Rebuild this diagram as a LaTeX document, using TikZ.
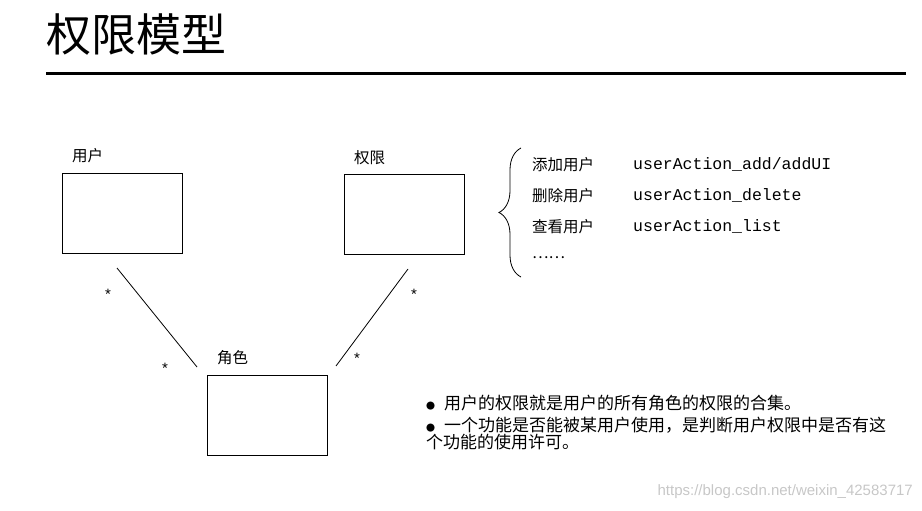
\documentclass[tikz,border=0pt]{standalone}
\usepackage{fontspec}
\setmainfont{Liberation Sans}
\setmonofont{Liberation Mono}
\newfontfamily\cjk{Noto Sans CJK SC}
\usetikzlibrary{decorations.pathreplacing}
\begin{document}
\begin{tikzpicture}[x=1pt,y=-1pt,
  box/.style={draw,line width=0.8pt,minimum width=120pt,minimum height=80pt,inner sep=0},
  lab/.style={font=\cjk\fontsize{15.5}{17}\selectfont,anchor=west,inner sep=0},
  mono/.style={font=\ttfamily\fontsize{16.5}{18}\selectfont,anchor=west,inner sep=0},
  bul/.style={font=\cjk\fontsize{17}{16}\selectfont,anchor=west,inner sep=0},
  star/.style={font=\fontsize{15}{15}\selectfont,inner sep=0}]
\useasboundingbox (0,0) rectangle (922,511);
\node[anchor=west,inner sep=0,font=\cjk\fontsize{45}{50}\selectfont] (title) at (46,35) {权限模型};
\draw[line width=3pt] (46,74) -- (906,74);
\node[box] (user) at (122,213) {};
\node[box] (perm) at (404,214.5) {};
\node[box] (role) at (267,415.5) {};
\node[lab] (lu) at (72,156) {用户};
\node[lab] (lp) at (354,158) {权限};
\node[lab] (lr) at (217,358) {角色};
\coordinate (a1) at (117,268); \coordinate (a2) at (197,367);
\coordinate (b1) at (408,269); \coordinate (b2) at (336,366);
\draw[line width=0.8pt] (a1) -- (a2);
\draw[line width=0.8pt] (b1) -- (b2);
\node[star] (s1) at (108,294) {*};
\node[star] (s2) at (165,368) {*};
\node[star] (s3) at (414,294) {*};
\node[star] (s4) at (357,358) {*};
\draw[line width=0.8pt,decorate,decoration={brace,amplitude=22pt,aspect=0.5}] (521,277) -- (521,148);
\node[lab] (r1) at (532,165) {添加用户};
\node[lab] (r2) at (532,196) {删除用户};
\node[lab] (r3) at (532,227) {查看用户};
\node[lab] (r4) at (532,258) {……};
\node[mono] (m1) at (633,164) {userAction\_add/addUI};
\node[mono] (m2) at (633,195) {userAction\_delete};
\node[mono] (m3) at (633,226) {userAction\_list};
\node[bul] (b1t) at (426,403) {{\fontsize{9}{9}\selectfont●}\hspace{9pt}用户的权限就是用户的所有角色的权限的合集。};
\node[bul,align=left,anchor=north west] (b2t) at (426,417) {{\fontsize{9}{9}\selectfont●}\hspace{9pt}一个功能是否能被某用户使用，是判断用户权限中是否有这\\个功能的使用许可。};
\node[anchor=east,inner sep=0,text=black!22,font=\fontsize{15}{16}\selectfont] (wm) at (913,492) {https://blog.csdn.net/weixin\_42583717};
\end{tikzpicture}
\end{document}
